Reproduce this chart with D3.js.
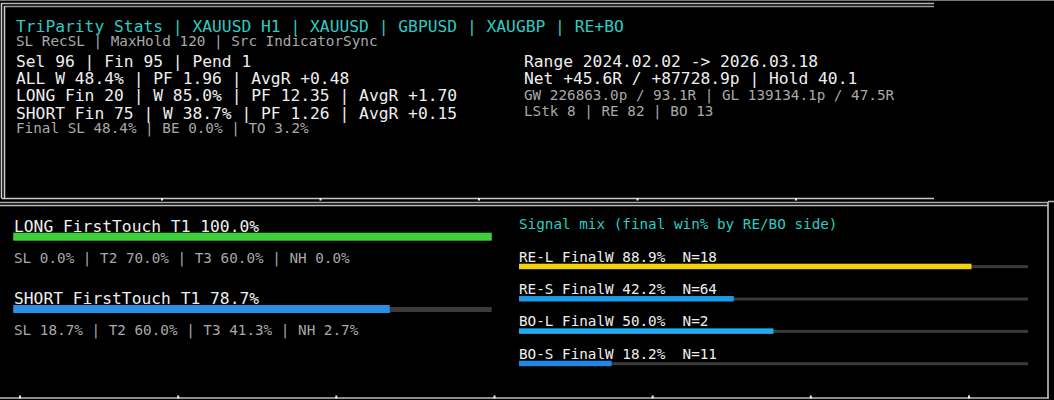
<!DOCTYPE html>
<html><head><meta charset="utf-8">
<script src="https://cdn.jsdelivr.net/npm/d3@7/dist/d3.min.js"></script>
<style>
html,body{margin:0;padding:0;background:#000;}
svg{display:block;}
text{font-family:"DejaVu Sans Mono",monospace;white-space:pre;}
</style></head>
<body>
<script>
// ---------- data ----------
const titleParts = ["TriParity Stats", "XAUUSD H1", "XAUUSD", "GBPUSD", "XAUGBP", "RE+BO"];
const configLine = ["SL RecSL", "MaxHold 120", "Src IndicatorSync"];
const selFinPend = [["Sel", 96], ["Fin", 95], ["Pend", 1]];
const statRows = ["ALL", "LONG", "SHORT"];
const statFin = [null, 20, 75];
const statWinPct = [48.4, 85.0, 38.7];
const statPF = [1.96, 12.35, 1.26];
const statAvgR = [0.48, 1.70, 0.15];
const finalLine = [["Final SL", 48.4], ["BE", 0.0], ["TO", 3.2]];
const rangeFrom = "2024.02.02", rangeTo = "2026.03.18";
const netR = 45.6, netPips = 87728.9, holdAvg = 40.1;
const gwPips = 226863.0, gwR = 93.1, glPips = 139134.1, glR = 47.5;
const countsLine = [["LStk", 8], ["RE", 82], ["BO", 13]];

const ftSides = ["LONG", "SHORT"];
const ftT1 = [100.0, 78.7];
const ftSL = [0.0, 18.7];
const ftT2 = [70.0, 60.0];
const ftT3 = [60.0, 41.3];
const ftNH = [0.0, 2.7];

const mixTitle = "Signal mix (final win% by RE/BO side)";
const mixLabels = ["RE-L", "RE-S", "BO-L", "BO-S"];
const mixWin = [88.9, 42.2, 50.0, 18.2];
const mixN = [18, 64, 2, 11];

// ---------- styles ----------
const W = 1054, H = 400;
const BIG = 16.3, SMALL = 14.3;
const cCyan = "#2ecbc3", cWhite = "#eeeeee", cGray = "#a8a8a8";
const sideColors = ["#3ecf3a", "#2a8fe6"];
const mixColors = ["#f2d20a", "#1c9ae6", "#1eaef0", "#1e88e4"];

const svg = d3.select("body").append("svg").attr("width", W).attr("height", H);
svg.append("rect").attr("width", W).attr("height", H).attr("fill", "#000");

// ---------- frames ----------
const g = svg.append("g");
function line(x1, y1, x2, y2, c, w) {
  g.append("line").attr("x1", x1).attr("y1", y1).attr("x2", x2).attr("y2", y2)
    .attr("stroke", c).attr("stroke-width", w || 1);
}
line(0, 0.5, W, 0.5, "#777");
// top panel (double border)
line(1.5, 3.5, 934, 3.5, "#b4b4b4", 1.5);
line(4.5, 6.5, 934, 6.5, "#9a9a9a", 1.5);
line(1.5, 3, 1.5, 198, "#d0d0d0", 1.5);
line(4.5, 6, 4.5, 198, "#d0d0d0", 1.5);
line(1.5, 198.5, 934, 198.5, "#c8c8c8", 1.5);
// bottom panel
line(0, 202.5, 1048, 202.5, "#a8a8a8", 1.5);
line(0, 205.5, 1048, 205.5, "#bdbdbd", 1.5);
line(1048, 202, 1048, 398, "#d0d0d0", 1.5);
line(0, 398, 1049, 398, "#bdbdbd", 1.5);
line(1048, 201.5, 1054, 201.5, "#bbb", 1.5);

// period separator ticks
const sepX = d3.scaleLinear().domain([0, 6]).range([20, 969]);
g.selectAll(".tb").data(d3.range(7)).join("rect")
  .attr("x", d => sepX(d) - 1).attr("y", 395.5).attr("width", 2).attr("height", 3).attr("fill", "#eee");
const sepTop = d3.scaleLinear().domain([0, 4]).range([162, 796]);
g.selectAll(".tt").data(d3.range(5)).join("rect")
  .attr("x", d => sepTop(d) - 1).attr("y", 198).attr("width", 2).attr("height", 2.5).attr("fill", "#eee");

// ---------- header text ----------
function txt(x, y, s, size, fill) {
  return svg.append("text").attr("x", x).attr("y", y).attr("font-size", size)
    .attr("fill", fill).text(s);
}
const f1 = d3.format(".1f"), f2 = d3.format(".2f"), fs2 = d3.format("+.2f"), fs1 = d3.format("+.1f");
const pct = v => f1(v) + "%";

txt(16, 32, titleParts.join(" | "), BIG, cCyan);
txt(16, 46, configLine.join(" | "), SMALL, cGray);
txt(16, 67, selFinPend.map(d => d[0] + " " + d[1]).join(" | "), BIG, cWhite);

const rowY = d3.scalePoint().domain(statRows).range([83.5, 118.5]);
statRows.forEach((r, i) => {
  const parts = [];
  if (statFin[i] === null) parts.push(r + " W " + pct(statWinPct[i]));
  else { parts.push(r + " Fin " + statFin[i]); parts.push("W " + pct(statWinPct[i])); }
  parts.push("PF " + f2(statPF[i]));
  parts.push("AvgR " + fs2(statAvgR[i]));
  txt(16, rowY(r), parts.join(" | "), BIG, cWhite);
});
txt(16, 133, finalLine.map(d => d[0] + " " + pct(d[1])).join(" | "), SMALL, cGray);

txt(524, 67, "Range " + rangeFrom + " -> " + rangeTo, BIG, cWhite);
txt(524, 83.5, "Net " + fs1(netR) + "R / " + fs1(netPips) + "p | Hold " + f1(holdAvg), BIG, cWhite);
txt(524, 99.5, "GW " + f1(gwPips) + "p / " + f1(gwR) + "R | GL " + f1(glPips) + "p / " + f1(glR) + "R", SMALL, cGray);
txt(524, 115.5, countsLine.map(d => d[0] + " " + d[1]).join(" | "), SMALL, cGray);

// ---------- first touch bars (left) ----------
const xL = d3.scaleLinear().domain([0, 100]).range([13.3, 491.7]);
const yL = d3.scalePoint().domain(ftSides).range([232.7, 305]);
const ft = ftSides.map((s, i) => ({ s, i }));
const gl = svg.append("g");
gl.selectAll(".trk").data(ft).join("rect")
  .attr("x", xL(0)).attr("y", d => yL(d.s) + 2).attr("width", xL(100) - xL(0)).attr("height", 5)
  .attr("fill", "#3a3a3a");
gl.selectAll(".bar").data(ft).join("rect")
  .attr("x", xL(0)).attr("y", d => yL(d.s)).attr("width", d => xL(ftT1[d.i]) - xL(0)).attr("height", 8)
  .attr("fill", d => sideColors[d.i]);
gl.selectAll(".lbl").data(ft).join("text")
  .attr("x", 14).attr("y", d => yL(d.s) - 1).attr("font-size", BIG).attr("fill", cWhite)
  .text(d => d.s + " FirstTouch T1 " + pct(ftT1[d.i]));
gl.selectAll(".sub").data(ft).join("text")
  .attr("x", 14).attr("y", d => yL(d.s) + 30).attr("font-size", SMALL).attr("fill", cGray)
  .text(d => ["SL " + pct(ftSL[d.i]), "T2 " + pct(ftT2[d.i]), "T3 " + pct(ftT3[d.i]), "NH " + pct(ftNH[d.i])].join(" | "));

// ---------- signal mix (right) ----------
txt(519, 228.5, mixTitle, SMALL, cCyan);
const xR = d3.scaleLinear().domain([0, 100]).range([519, 1028]);
const yR = d3.scalePoint().domain(mixLabels).range([263.7, 360.7]);
const mx = mixLabels.map((s, i) => ({ s, i }));
const gr = svg.append("g");
gr.selectAll(".trk").data(mx).join("rect")
  .attr("x", xR(0)).attr("y", d => yR(d.s) + 1.5).attr("width", xR(100) - xR(0)).attr("height", 3)
  .attr("fill", "#3a3a3a");
gr.selectAll(".bar").data(mx).join("rect")
  .attr("x", xR(0)).attr("y", d => yR(d.s)).attr("width", d => xR(mixWin[d.i]) - xR(0)).attr("height", 5.5)
  .attr("fill", d => mixColors[d.i]);
gr.selectAll(".lbl").data(mx).join("text")
  .attr("x", 519).attr("y", d => yR(d.s) - 2).attr("font-size", SMALL).attr("fill", cWhite)
  .text(d => d.s + " FinalW " + pct(mixWin[d.i]) + "  N=" + mixN[d.i]);
</script>
</body></html>
